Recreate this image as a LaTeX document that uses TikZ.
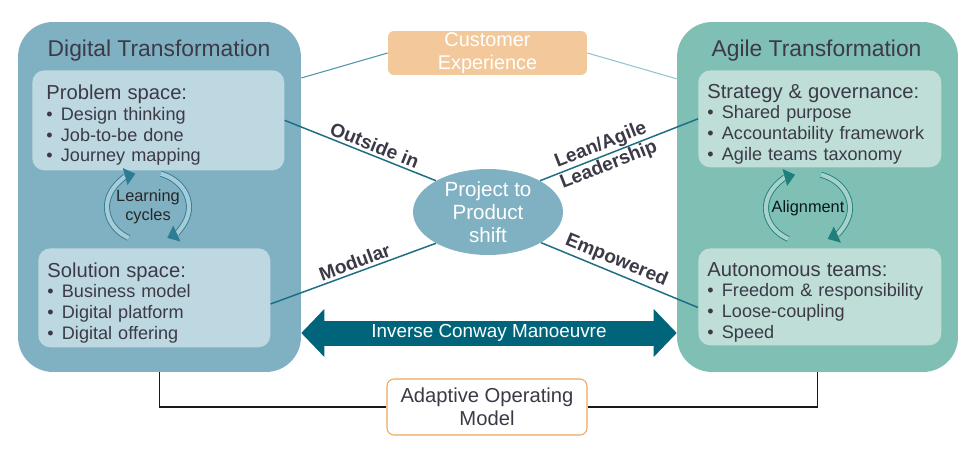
\documentclass[tikz,border=0pt]{standalone}
\usepackage{fontspec}
\setmainfont{Liberation Sans}
\usetikzlibrary{arrows.meta,shapes.geometric,positioning}
\definecolor{DigBlue}{HTML}{80B1C2}
\definecolor{DigLight}{HTML}{BDD8E0}
\definecolor{AgileTeal}{HTML}{80BFB3}
\definecolor{AgileLight}{HTML}{BEDED7}
\definecolor{ConwayTeal}{HTML}{00657A}
\definecolor{LinkTeal}{HTML}{1E6F85}
\definecolor{CxLine}{HTML}{4E95AB}
\definecolor{CxLight}{HTML}{93C3CF}
\definecolor{Peach}{HTML}{F3C99B}
\definecolor{AomOrange}{HTML}{EFA55C}
\definecolor{InkGray}{HTML}{3C3A47}
\definecolor{CycBlue}{HTML}{2C7C93}
\definecolor{CycLight}{HTML}{A7CCD7}
\definecolor{AlnTeal}{HTML}{1E7F7C}
\definecolor{AlnLight}{HTML}{A6D2CA}
\newcommand{\itm}{\makebox[8.3pt][l]{\textbullet}}
\newcommand{\spacehead}[1]{{\fontsize{11.5}{11.8}\selectfont\rule{0pt}{14pt}#1}}
\tikzset{
  transform/.style={rounded corners=0.7cm, minimum height=7cm, inner sep=0pt},
  titletext/.style={font=\fontsize{13}{15.6}\selectfont, text=InkGray},
  space/.style={rounded corners=0.24cm, anchor=north west, align=left,
                inner ysep=0pt, text=InkGray,
                font=\fontsize{10.3}{11.8}\selectfont},
  shiftnode/.style={ellipse, fill=DigBlue, minimum width=3cm,
                    minimum height=1.72cm, inner sep=0pt, align=center,
                    text=white, font=\fontsize{11.7}{13}\selectfont},
  cxbox/.style={fill=Peach, rounded corners=0.12cm, minimum width=3.98cm,
                minimum height=0.88cm, inner sep=0pt, align=center,
                text=white, font=\fontsize{11.3}{13}\selectfont},
  aombox/.style={draw=AomOrange, fill=white, line width=0.6pt,
                 rounded corners=0.14cm, minimum width=4cm,
                 minimum height=1.12cm, inner sep=0pt, align=center,
                 text=InkGray, font=\fontsize{11.5}{13}\selectfont},
  link/.style={draw=LinkTeal, line width=0.85pt},
  cxlink/.style={draw=CxLine, line width=0.6pt},
  linklabel/.style={sloped, align=center, inner sep=1.5pt, text=InkGray,
                    font=\bfseries\fontsize{10.9}{12.4}\selectfont},
  frame/.style={draw=black!90, line width=1.1pt},
  conway/.style={draw=ConwayTeal, line width=0.5cm,
                 {Triangle[length=0.46cm,width=0.96cm,line width=0pt]}-{Triangle[length=0.46cm,width=0.96cm,line width=0pt]}},
  conwaytext/.style={text=white, font=\fontsize{10.75}{12}\selectfont},
  cyctext/.style={align=center, font=\fontsize{9.3}{10.8}\selectfont},
  cyc/.style={draw=CycBlue, line width=0.5pt, double=CycLight,
              double distance=2.4pt,
              -{Triangle[length=6pt,width=10pt,line width=0pt]}}
}
\begin{document}
\begin{tikzpicture}[x=0.02cm, y=-0.02cm]
  \useasboundingbox (0,0) rectangle (980,453);

  % the two transformations
  \node[transform, fill=DigBlue, minimum width=5.66cm] (dig) at (159.5,197) {};
  \node[transform, fill=AgileTeal, minimum width=5.62cm] (agile) at (817.5,197) {};
  \node[titletext] (digtitle) at (159,51) {Digital Transformation};
  \node[titletext] (agiletitle) at (816.5,51) {Agile Transformation};

  \node[space, fill=DigLight, minimum width=5.04cm, minimum height=2cm,
        text width=4.48cm, inner xsep=0.28cm] (prob) at (32,70)
    {\spacehead{Problem space:}\\
     \itm Design thinking\\
     \itm Job-to-be done\\
     \itm Journey mapping};
  \node[space, fill=DigLight, minimum width=4.64cm, minimum height=1.98cm,
        text width=4.28cm, inner xsep=0.18cm] (sol) at (38,248)
    {\spacehead{Solution space:}\\
     \itm Business model\\
     \itm Digital platform\\
     \itm Digital offering};
  \node[space, fill=AgileLight, minimum width=4.86cm, minimum height=1.94cm,
        text width=4.5cm, inner xsep=0.18cm] (strat) at (698,70)
    {\spacehead{Strategy \& governance:}\\
     \itm Shared purpose\\
     \itm Accountability framework\\
     \itm Agile teams taxonomy};
  \node[space, fill=AgileLight, minimum width=4.86cm, minimum height=1.94cm,
        text width=4.5cm, inner xsep=0.18cm] (auto) at (698,248)
    {\spacehead{Autonomous teams:}\\
     \itm Freedom \& responsibility\\
     \itm Loose-coupling\\
     \itm Speed};

  % cycles between the spaces
  \node[cyctext, text=black!85] (lc) at (148,207) {Learning\\cycles};
  \draw[cyc] (lc.center) ++(118:41 and 35)
    arc[start angle=118, end angle=252, x radius=41, y radius=35];
  \draw[cyc] (lc.center) ++(-72:41 and 35)
    arc[start angle=-72, end angle=62, x radius=41, y radius=35];

  \node[cyctext, text=black!80!AlnTeal] (aln) at (808,208) {Alignment};
  \draw[cyc, draw=AlnTeal, double=AlnLight] (aln.center) ++(118:42 and 35)
    arc[start angle=118, end angle=252, x radius=42, y radius=35];
  \draw[cyc, draw=AlnTeal, double=AlnLight] (aln.center) ++(-72:42 and 35)
    arc[start angle=-72, end angle=62, x radius=42, y radius=35];

  % centre
  \node[shiftnode] (pps) at (488,212) {Project to\\Product\\shift};
  \node[cxbox] (cx) at (487.5,53) {Customer\\Experience};
  \node[aombox] (aom) at (487,407) {Adaptive Operating\\Model};

  \draw[cxlink] (cx.west) -- (dig.40);
  \draw[cxlink, draw=CxLight] (cx.east) -- (agile.140);

  \draw[link] (prob.east) -- node[linklabel, above, pos=0.57] {Outside in} (pps.149);
  \draw[link] (pps.31) -- node[linklabel, pos=0.41] {Lean/Agile\\Leadership} (strat.west);
  \draw[link] (sol.-3) -- node[linklabel, above, pos=0.53] {Modular} (pps.211);
  \draw[link] (pps.-30) -- node[linklabel, above, pos=0.45] {Empowered} (auto.185);

  \draw[conway] (dig.east |- 0,333) --
    node[conwaytext] (icm) {Inverse Conway Manoeuvre} (agile.west |- 0,333);

  \draw[frame] (dig.south) |- (aom.west);
  \draw[frame] (agile.south) |- (aom.east);
\end{tikzpicture}
\end{document}
